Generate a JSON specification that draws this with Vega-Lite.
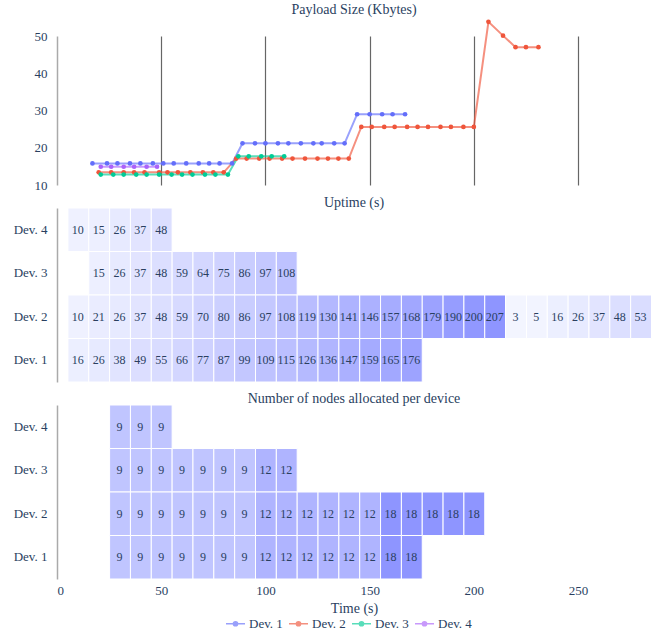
{
  "$schema": "https://vega.github.io/schema/vega-lite/v6.json",
  "background": "white",
  "padding": {"left": 13, "top": 2, "right": 0, "bottom": 0},
  "bounds": "flush",
  "spacing": 23,
  "resolve": {"scale": {"x": "independent", "y": "independent", "fill": "independent", "color": "shared"}},
  "config": {
    "font": "Liberation Serif",
    "view": {"stroke": null},
    "axis": {
      "labelFont": "Liberation Serif", "labelFontSize": 13, "labelColor": "#2a3f5f",
      "titleFont": "Liberation Serif", "titleFontSize": 14, "titleColor": "#2a3f5f", "titleFontWeight": "normal",
      "ticks": false, "grid": false, "domain": false
    },
    "title": {"font": "Liberation Serif", "fontSize": 14, "fontWeight": "normal", "color": "#2a3f5f", "anchor": "middle", "frame": "group"},
    "legend": {"labelFont": "Liberation Serif", "labelFontSize": 13, "labelColor": "#2a3f5f"}
  },
  "vconcat": [
    {
      "width": 594,
      "height": 149,
      "title": {"text": "Payload Size (Kbytes)", "offset": 1},
      "data": {"values": [
        {"dev": "Dev. 1", "t": 17, "kb": 15.8}, {"dev": "Dev. 1", "t": 24, "kb": 15.8}, {"dev": "Dev. 1", "t": 29, "kb": 15.8},
        {"dev": "Dev. 1", "t": 35, "kb": 15.8}, {"dev": "Dev. 1", "t": 40, "kb": 15.8}, {"dev": "Dev. 1", "t": 46, "kb": 15.8},
        {"dev": "Dev. 1", "t": 51, "kb": 15.8}, {"dev": "Dev. 1", "t": 56, "kb": 15.8}, {"dev": "Dev. 1", "t": 62, "kb": 15.8},
        {"dev": "Dev. 1", "t": 68, "kb": 15.8}, {"dev": "Dev. 1", "t": 73, "kb": 15.8}, {"dev": "Dev. 1", "t": 78, "kb": 15.8},
        {"dev": "Dev. 1", "t": 84, "kb": 15.8}, {"dev": "Dev. 1", "t": 89, "kb": 21.2}, {"dev": "Dev. 1", "t": 95, "kb": 21.2},
        {"dev": "Dev. 1", "t": 100, "kb": 21.2}, {"dev": "Dev. 1", "t": 106, "kb": 21.2}, {"dev": "Dev. 1", "t": 111, "kb": 21.2},
        {"dev": "Dev. 1", "t": 117, "kb": 21.2}, {"dev": "Dev. 1", "t": 123, "kb": 21.2}, {"dev": "Dev. 1", "t": 127, "kb": 21.2},
        {"dev": "Dev. 1", "t": 133, "kb": 21.2}, {"dev": "Dev. 1", "t": 138, "kb": 21.2}, {"dev": "Dev. 1", "t": 144, "kb": 29.0},
        {"dev": "Dev. 1", "t": 150, "kb": 29.0}, {"dev": "Dev. 1", "t": 156, "kb": 29.0}, {"dev": "Dev. 1", "t": 161, "kb": 29.0},
        {"dev": "Dev. 1", "t": 167, "kb": 29.0},
        {"dev": "Dev. 2", "t": 20, "kb": 13.4}, {"dev": "Dev. 2", "t": 26, "kb": 13.4}, {"dev": "Dev. 2", "t": 32, "kb": 13.4},
        {"dev": "Dev. 2", "t": 37, "kb": 13.4}, {"dev": "Dev. 2", "t": 42, "kb": 13.4}, {"dev": "Dev. 2", "t": 49, "kb": 13.4},
        {"dev": "Dev. 2", "t": 53, "kb": 13.4}, {"dev": "Dev. 2", "t": 58, "kb": 13.4}, {"dev": "Dev. 2", "t": 64, "kb": 13.4},
        {"dev": "Dev. 2", "t": 70, "kb": 13.4}, {"dev": "Dev. 2", "t": 75, "kb": 13.4}, {"dev": "Dev. 2", "t": 80, "kb": 13.4},
        {"dev": "Dev. 2", "t": 86, "kb": 17.1}, {"dev": "Dev. 2", "t": 91, "kb": 17.1}, {"dev": "Dev. 2", "t": 97, "kb": 17.1},
        {"dev": "Dev. 2", "t": 102, "kb": 17.1}, {"dev": "Dev. 2", "t": 108, "kb": 17.1}, {"dev": "Dev. 2", "t": 113, "kb": 17.1},
        {"dev": "Dev. 2", "t": 119, "kb": 17.1}, {"dev": "Dev. 2", "t": 125, "kb": 17.1}, {"dev": "Dev. 2", "t": 130, "kb": 17.1},
        {"dev": "Dev. 2", "t": 135, "kb": 17.1}, {"dev": "Dev. 2", "t": 140, "kb": 17.1}, {"dev": "Dev. 2", "t": 146, "kb": 25.6},
        {"dev": "Dev. 2", "t": 151, "kb": 25.6}, {"dev": "Dev. 2", "t": 157, "kb": 25.6}, {"dev": "Dev. 2", "t": 162, "kb": 25.6},
        {"dev": "Dev. 2", "t": 168, "kb": 25.6}, {"dev": "Dev. 2", "t": 173, "kb": 25.6}, {"dev": "Dev. 2", "t": 178, "kb": 25.6},
        {"dev": "Dev. 2", "t": 184, "kb": 25.6}, {"dev": "Dev. 2", "t": 189, "kb": 25.6}, {"dev": "Dev. 2", "t": 195, "kb": 25.6},
        {"dev": "Dev. 2", "t": 200, "kb": 25.6}, {"dev": "Dev. 2", "t": 207, "kb": 53.8}, {"dev": "Dev. 2", "t": 214, "kb": 50.1},
        {"dev": "Dev. 2", "t": 220, "kb": 47.0}, {"dev": "Dev. 2", "t": 225, "kb": 47.0}, {"dev": "Dev. 2", "t": 231, "kb": 47.0},
        {"dev": "Dev. 3", "t": 21, "kb": 12.8}, {"dev": "Dev. 3", "t": 27, "kb": 12.8}, {"dev": "Dev. 3", "t": 32, "kb": 12.8},
        {"dev": "Dev. 3", "t": 38, "kb": 12.8}, {"dev": "Dev. 3", "t": 43, "kb": 12.8}, {"dev": "Dev. 3", "t": 49, "kb": 12.8},
        {"dev": "Dev. 3", "t": 55, "kb": 12.8}, {"dev": "Dev. 3", "t": 60, "kb": 12.8}, {"dev": "Dev. 3", "t": 65, "kb": 12.8},
        {"dev": "Dev. 3", "t": 71, "kb": 12.8}, {"dev": "Dev. 3", "t": 76, "kb": 12.8}, {"dev": "Dev. 3", "t": 82, "kb": 12.8},
        {"dev": "Dev. 3", "t": 87, "kb": 17.7}, {"dev": "Dev. 3", "t": 92, "kb": 17.7}, {"dev": "Dev. 3", "t": 98, "kb": 17.7},
        {"dev": "Dev. 3", "t": 103, "kb": 17.7}, {"dev": "Dev. 3", "t": 109, "kb": 17.7},
        {"dev": "Dev. 4", "t": 21, "kb": 14.9}, {"dev": "Dev. 4", "t": 26, "kb": 14.9}, {"dev": "Dev. 4", "t": 32, "kb": 14.9},
        {"dev": "Dev. 4", "t": 37, "kb": 14.9}, {"dev": "Dev. 4", "t": 43, "kb": 14.9}, {"dev": "Dev. 4", "t": 48, "kb": 14.9}
      ]},
      "encoding": {
        "x": {"field": "t", "type": "quantitative", "scale": {"domain": [0, 285], "nice": false, "zero": false},
              "axis": {"values": [50, 100, 150, 200, 250], "grid": true, "gridColor": "#666666", "gridWidth": 1.2, "labels": false, "title": null}},
        "y": {"field": "kb", "type": "quantitative", "scale": {"domain": [10, 50], "nice": false, "zero": false},
              "axis": {"values": [10, 20, 30, 40, 50], "domain": true, "domainColor": "#aaaaaa", "domainWidth": 1.5, "labelPadding": 10, "title": null}},
        "color": {"field": "dev", "type": "nominal",
                  "scale": {"domain": ["Dev. 1", "Dev. 2", "Dev. 3", "Dev. 4"], "range": ["#636efa", "#ef553b", "#00cc96", "#ab63fa"]},
                  "legend": {"orient": "none", "legendX": 168, "legendY": 577, "direction": "horizontal", "title": null,
                             "symbolType": "M-1,0H1M-0.22,0A0.22,0.22,0,1,0,0.22,0A0.22,0.22,0,1,0,-0.22,0Z",
                             "symbolSize": 361, "symbolStrokeWidth": 1.5, "labelOffset": 3, "columnPadding": 3,
                             "encode": {"symbols": {"update": {"fill": {"scale": "color", "field": "value"}, "opacity": {"value": 1},
                                                               "strokeOpacity": {"value": 1}, "fillOpacity": {"value": 1}}}}}}
      },
      "layer": [
        {"mark": {"type": "line", "strokeWidth": 2, "opacity": 0.65}},
        {"mark": {"type": "point", "filled": true, "size": 22, "opacity": 1}}
      ]
    },
    {
      "width": 594,
      "height": 174,
      "title": {"text": "Uptime (s)", "offset": -2},
      "data": {"values": [
        {"dev": "Dev. 4", "t": 10, "up": 10}, {"dev": "Dev. 4", "t": 20, "up": 15}, {"dev": "Dev. 4", "t": 30, "up": 26},
        {"dev": "Dev. 4", "t": 40, "up": 37}, {"dev": "Dev. 4", "t": 50, "up": 48},
        {"dev": "Dev. 3", "t": 20, "up": 15}, {"dev": "Dev. 3", "t": 30, "up": 26}, {"dev": "Dev. 3", "t": 40, "up": 37},
        {"dev": "Dev. 3", "t": 50, "up": 48}, {"dev": "Dev. 3", "t": 60, "up": 59}, {"dev": "Dev. 3", "t": 70, "up": 64},
        {"dev": "Dev. 3", "t": 80, "up": 75}, {"dev": "Dev. 3", "t": 90, "up": 86}, {"dev": "Dev. 3", "t": 100, "up": 97},
        {"dev": "Dev. 3", "t": 110, "up": 108},
        {"dev": "Dev. 2", "t": 10, "up": 10}, {"dev": "Dev. 2", "t": 20, "up": 21}, {"dev": "Dev. 2", "t": 30, "up": 26},
        {"dev": "Dev. 2", "t": 40, "up": 37}, {"dev": "Dev. 2", "t": 50, "up": 48}, {"dev": "Dev. 2", "t": 60, "up": 59},
        {"dev": "Dev. 2", "t": 70, "up": 70}, {"dev": "Dev. 2", "t": 80, "up": 80}, {"dev": "Dev. 2", "t": 90, "up": 86},
        {"dev": "Dev. 2", "t": 100, "up": 97}, {"dev": "Dev. 2", "t": 110, "up": 108}, {"dev": "Dev. 2", "t": 120, "up": 119},
        {"dev": "Dev. 2", "t": 130, "up": 130}, {"dev": "Dev. 2", "t": 140, "up": 141}, {"dev": "Dev. 2", "t": 150, "up": 146},
        {"dev": "Dev. 2", "t": 160, "up": 157}, {"dev": "Dev. 2", "t": 170, "up": 168}, {"dev": "Dev. 2", "t": 180, "up": 179},
        {"dev": "Dev. 2", "t": 190, "up": 190}, {"dev": "Dev. 2", "t": 200, "up": 200}, {"dev": "Dev. 2", "t": 210, "up": 207},
        {"dev": "Dev. 2", "t": 220, "up": 3}, {"dev": "Dev. 2", "t": 230, "up": 5}, {"dev": "Dev. 2", "t": 240, "up": 16},
        {"dev": "Dev. 2", "t": 250, "up": 26}, {"dev": "Dev. 2", "t": 260, "up": 37}, {"dev": "Dev. 2", "t": 270, "up": 48},
        {"dev": "Dev. 2", "t": 280, "up": 53},
        {"dev": "Dev. 1", "t": 10, "up": 16}, {"dev": "Dev. 1", "t": 20, "up": 26}, {"dev": "Dev. 1", "t": 30, "up": 38},
        {"dev": "Dev. 1", "t": 40, "up": 49}, {"dev": "Dev. 1", "t": 50, "up": 55}, {"dev": "Dev. 1", "t": 60, "up": 66},
        {"dev": "Dev. 1", "t": 70, "up": 77}, {"dev": "Dev. 1", "t": 80, "up": 87}, {"dev": "Dev. 1", "t": 90, "up": 99},
        {"dev": "Dev. 1", "t": 100, "up": 109}, {"dev": "Dev. 1", "t": 110, "up": 115}, {"dev": "Dev. 1", "t": 120, "up": 126},
        {"dev": "Dev. 1", "t": 130, "up": 136}, {"dev": "Dev. 1", "t": 140, "up": 147}, {"dev": "Dev. 1", "t": 150, "up": 159},
        {"dev": "Dev. 1", "t": 160, "up": 165}, {"dev": "Dev. 1", "t": 170, "up": 176}
      ]},
      "encoding": {
        "y": {"field": "dev", "type": "nominal", "sort": ["Dev. 4", "Dev. 3", "Dev. 2", "Dev. 1"],
              "scale": {"paddingInner": 0, "paddingOuter": 0},
              "axis": {"domain": true, "domainColor": "#aaaaaa", "domainWidth": 1.5, "labelPadding": 10, "title": null}}
      },
      "layer": [
        {
          "mark": {"type": "rect", "stroke": "white", "strokeWidth": 1},
          "encoding": {
            "x": {"field": "t", "type": "quantitative", "bin": {"step": 10, "anchor": 5, "extent": [5, 285], "nice": false},
                  "scale": {"domain": [0, 285], "nice": false, "zero": false}, "axis": null},
            "fill": {"field": "up", "type": "quantitative", "scale": {"domain": [0, 207], "range": ["#ffffff", "#8e95ff"]}, "legend": null}
          }
        },
        {
          "mark": {"type": "text", "fontSize": 12, "color": "#2a3f5f", "font": "Liberation Serif"},
          "encoding": {
            "x": {"field": "t", "type": "quantitative", "axis": null},
            "text": {"field": "up", "type": "quantitative"}
          }
        }
      ]
    },
    {
      "width": 594,
      "height": 174,
      "title": {"text": "Number of nodes allocated per device", "offset": -1},
      "data": {"values": [
        {"dev": "Dev. 4", "t": 30, "n": 9}, {"dev": "Dev. 4", "t": 40, "n": 9}, {"dev": "Dev. 4", "t": 50, "n": 9},
        {"dev": "Dev. 3", "t": 30, "n": 9}, {"dev": "Dev. 3", "t": 40, "n": 9}, {"dev": "Dev. 3", "t": 50, "n": 9},
        {"dev": "Dev. 3", "t": 60, "n": 9}, {"dev": "Dev. 3", "t": 70, "n": 9}, {"dev": "Dev. 3", "t": 80, "n": 9},
        {"dev": "Dev. 3", "t": 90, "n": 9}, {"dev": "Dev. 3", "t": 100, "n": 12}, {"dev": "Dev. 3", "t": 110, "n": 12},
        {"dev": "Dev. 2", "t": 30, "n": 9}, {"dev": "Dev. 2", "t": 40, "n": 9}, {"dev": "Dev. 2", "t": 50, "n": 9},
        {"dev": "Dev. 2", "t": 60, "n": 9}, {"dev": "Dev. 2", "t": 70, "n": 9}, {"dev": "Dev. 2", "t": 80, "n": 9},
        {"dev": "Dev. 2", "t": 90, "n": 9}, {"dev": "Dev. 2", "t": 100, "n": 12}, {"dev": "Dev. 2", "t": 110, "n": 12},
        {"dev": "Dev. 2", "t": 120, "n": 12}, {"dev": "Dev. 2", "t": 130, "n": 12}, {"dev": "Dev. 2", "t": 140, "n": 12},
        {"dev": "Dev. 2", "t": 150, "n": 12}, {"dev": "Dev. 2", "t": 160, "n": 18}, {"dev": "Dev. 2", "t": 170, "n": 18},
        {"dev": "Dev. 2", "t": 180, "n": 18}, {"dev": "Dev. 2", "t": 190, "n": 18}, {"dev": "Dev. 2", "t": 200, "n": 18},
        {"dev": "Dev. 1", "t": 30, "n": 9}, {"dev": "Dev. 1", "t": 40, "n": 9}, {"dev": "Dev. 1", "t": 50, "n": 9},
        {"dev": "Dev. 1", "t": 60, "n": 9}, {"dev": "Dev. 1", "t": 70, "n": 9}, {"dev": "Dev. 1", "t": 80, "n": 9},
        {"dev": "Dev. 1", "t": 90, "n": 9}, {"dev": "Dev. 1", "t": 100, "n": 12}, {"dev": "Dev. 1", "t": 110, "n": 12},
        {"dev": "Dev. 1", "t": 120, "n": 12}, {"dev": "Dev. 1", "t": 130, "n": 12}, {"dev": "Dev. 1", "t": 140, "n": 12},
        {"dev": "Dev. 1", "t": 150, "n": 12}, {"dev": "Dev. 1", "t": 160, "n": 18}, {"dev": "Dev. 1", "t": 170, "n": 18}
      ]},
      "encoding": {
        "y": {"field": "dev", "type": "nominal", "sort": ["Dev. 4", "Dev. 3", "Dev. 2", "Dev. 1"],
              "scale": {"paddingInner": 0, "paddingOuter": 0},
              "axis": {"domain": true, "domainColor": "#aaaaaa", "domainWidth": 1.5, "labelPadding": 10, "title": null}}
      },
      "layer": [
        {
          "mark": {"type": "rect", "stroke": "white", "strokeWidth": 1},
          "encoding": {
            "x": {"field": "t", "type": "quantitative", "bin": {"step": 10, "anchor": 5, "extent": [5, 285], "nice": false},
                  "scale": {"domain": [0, 285], "nice": false, "zero": false},
                  "axis": {"values": [0, 50, 100, 150, 200, 250], "format": "d", "labelPadding": 5, "title": "Time (s)", "titlePadding": 4}},
            "fill": {"field": "n", "type": "quantitative", "scale": {"domain": [0, 18], "range": ["#ffffff", "#8e95ff"]}, "legend": null}
          }
        },
        {
          "mark": {"type": "text", "fontSize": 12, "color": "#2a3f5f", "font": "Liberation Serif"},
          "encoding": {
            "x": {"field": "t", "type": "quantitative",
                  "axis": {"values": [0, 50, 100, 150, 200, 250], "format": "d", "labelPadding": 5, "title": "Time (s)", "titlePadding": 4}},
            "text": {"field": "n", "type": "quantitative"}
          }
        }
      ]
    }
  ]
}
